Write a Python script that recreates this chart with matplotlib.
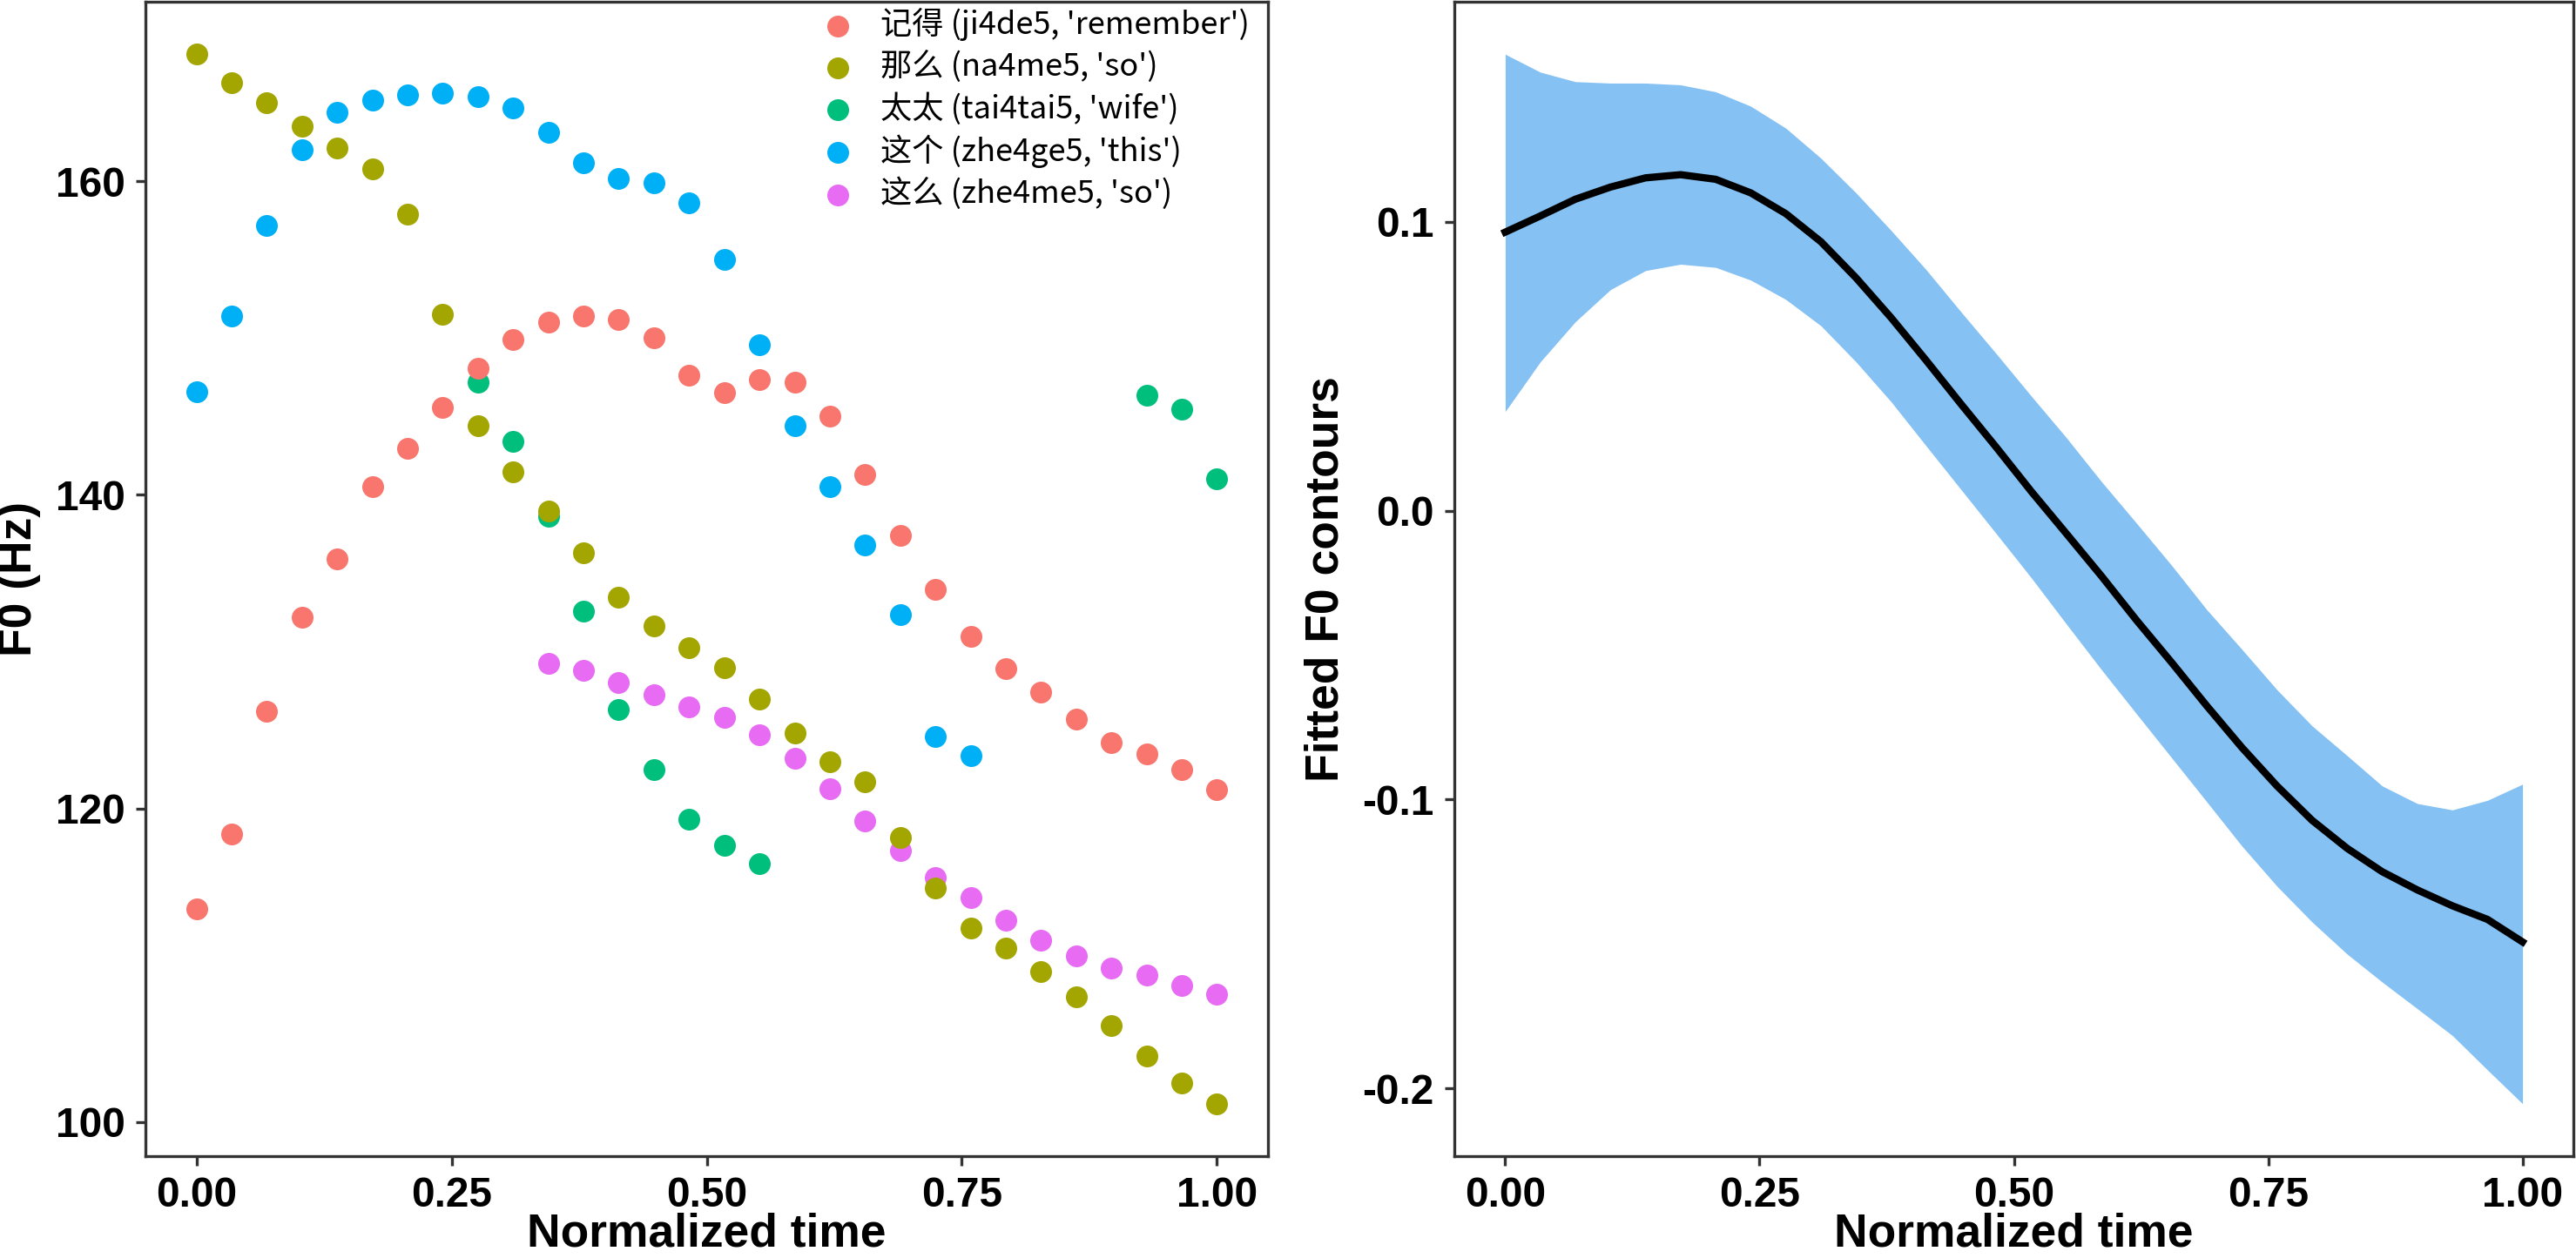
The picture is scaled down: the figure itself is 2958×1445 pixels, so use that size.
import numpy as np
import matplotlib
matplotlib.use('Agg')
import matplotlib.pyplot as plt

plt.rcParams['axes.unicode_minus'] = False

# normalized time grid (30 samples per token)
time = np.linspace(0, 1, 30)
nan = np.nan

words = ["记得 (ji4de5, 'remember')", "那么 (na4me5, 'so')", "太太 (tai4tai5, 'wife')",
         "这个 (zhe4ge5, 'this')", "这么 (zhe4me5, 'so')"]
colors = ['#F8766D', '#A3A500', '#00BF7D', '#00B0F6', '#E76BF3']

f0_jide = [113.6, 118.4, 126.2, 132.2, 135.9, 140.5, 142.95, 145.6, 148.1, 149.9,
           151.0, 151.4, 151.2, 150.0, 147.65, 146.5, 147.35, 147.2, 145.0, 141.3,
           137.4, 133.95, 131.0, 128.9, 127.45, 125.7, 124.2, 123.5, 122.5, 121.2]
f0_name = [168.1, 166.3, 165.0, 163.5, 162.1, 160.8, 157.9, 151.5, 144.4, 141.45,
           138.96, 136.3, 133.5, 131.66, 130.24, 128.97, 126.97, 124.84, 122.97, 121.68,
           118.13, 114.92, 112.37, 111.08, 109.6, 108.0, 106.18, 104.2, 102.5, 101.18]
f0_taitai = [nan, nan, nan, nan, nan, nan, nan, nan, 147.2, 143.4,
             138.65, 132.6, 126.3, 122.5, 119.3, 117.66, 116.5, nan, nan, nan,
             nan, nan, nan, nan, nan, nan, nan, 146.33, 145.44, 141.0]
f0_zhege = [146.6, 151.4, 157.2, 162.0, 164.4, 165.2, 165.5, 165.6, 165.4, 164.65,
            163.1, 161.2, 160.2, 159.9, 158.6, 155.0, 149.6, 144.4, 140.5, 136.8,
            132.35, 124.6, 123.37, nan, nan, nan, nan, nan, nan, nan]
f0_zheme = [nan, nan, nan, nan, nan, nan, nan, nan, nan, nan,
            129.26, 128.8, 128.05, 127.24, 126.5, 125.8, 124.7, 123.2, 121.24, 119.2,
            117.34, 115.58, 114.3, 112.9, 111.6, 110.6, 109.8, 109.37, 108.7, 108.16]
series = [f0_jide, f0_name, f0_taitai, f0_zhege, f0_zheme]
draw_order = [4, 5, 2, 3, 1]

fit = [0.0964, 0.102, 0.1078, 0.112, 0.1152, 0.1163, 0.1147, 0.110, 0.1028, 0.0931,
       0.0806, 0.0668, 0.052, 0.0368, 0.0219, 0.0066, -0.008, -0.0227, -0.038, -0.0526,
       -0.0676, -0.082, -0.0953, -0.1072, -0.1169, -0.125, -0.1313, -0.1368, -0.1415, -0.1493]
fit_upper = [0.158, 0.1518, 0.1485, 0.148, 0.148, 0.1474, 0.145, 0.140, 0.1324, 0.122,
             0.110, 0.097, 0.0834, 0.0687, 0.0543, 0.0396, 0.0252, 0.010, -0.0044, -0.019,
             -0.0343, -0.048, -0.062, -0.0745, -0.0848, -0.0953, -0.1014, -0.1036, -0.1003, -0.0947]
fit_lower = [0.0343, 0.0515, 0.0654, 0.0765, 0.0831, 0.0853, 0.0842, 0.0798, 0.0731, 0.064,
             0.0515, 0.0377, 0.0224, 0.0072, -0.008, -0.0233, -0.0393, -0.0551, -0.0704, -0.0856,
             -0.1008, -0.1161, -0.13, -0.1424, -0.1535, -0.1632, -0.1724, -0.1817, -0.1936, -0.2053]

W, H = 2958, 1445
fig = plt.figure(figsize=(W / 300, H / 300), dpi=300)
bottom = 1 - 1328 / H
height = (1328 - 2) / H
ax1 = fig.add_axes([167 / W, bottom, (1456 - 167) / W, height])
ax2 = fig.add_axes([1670 / W, bottom, (2955 - 1670) / W, height])

title_font = {'family': 'Liberation Sans', 'weight': 'bold', 'size': 12.8}


def style(ax):
    for s in ax.spines.values():
        s.set_color('#333333')
        s.set_linewidth(0.8)
    ax.tick_params(length=2.6, width=0.8, color='#333333', pad=3)
    for lab in ax.get_xticklabels() + ax.get_yticklabels():
        lab.set_fontfamily('Liberation Sans')
        lab.set_fontweight('bold')
        lab.set_fontsize(11.5)
        lab.set_color('black')


def pad_lim(lo, hi):
    d = (hi - lo) * 0.05
    return lo - d, hi + d


# left panel: raw F0 points
for vals, col, lab, z in zip(series, colors, words, draw_order):
    ax1.scatter(time, vals, s=36, color=col, linewidths=0, label=lab, zorder=z)

all_f0 = np.concatenate([np.array(v, dtype=float) for v in series])
ax1.set_xlim(*pad_lim(0, 1))
ax1.set_ylim(*pad_lim(np.nanmin(all_f0), np.nanmax(all_f0)))
ax1.set_xticks([0, 0.25, 0.5, 0.75, 1.0])
ax1.set_xticklabels(['0.00', '0.25', '0.50', '0.75', '1.00'])
ax1.set_yticks([100, 120, 140, 160])
ax1.set_xlabel('Normalized time', fontdict=title_font, labelpad=-0.8)
ax1.set_ylabel('F0 (Hz)', fontdict=title_font, labelpad=4)
style(ax1)

leg = ax1.legend(loc='upper left', bbox_to_anchor=(0.597, 1.0), frameon=False,
                 prop={'family': 'Noto Sans CJK SC', 'size': 8.7}, scatterpoints=1,
                 handlelength=1.0, handletextpad=0.85, labelspacing=0.3,
                 borderpad=0.2, borderaxespad=0)

# right panel: fitted contour with confidence band
ax2.fill_between(time, fit_lower, fit_upper, color='#85C1F2', linewidth=0)
ax2.plot(time, fit, color='black', linewidth=2.0)
ax2.set_xlim(*pad_lim(0, 1))
ax2.set_ylim(*pad_lim(min(fit_lower), max(fit_upper)))
ax2.set_xticks([0, 0.25, 0.5, 0.75, 1.0])
ax2.set_xticklabels(['0.00', '0.25', '0.50', '0.75', '1.00'])
ax2.set_yticks([-0.2, -0.1, 0.0, 0.1])
ax2.set_yticklabels(['-0.2', '-0.1', '0.0', '0.1'])
ax2.set_xlabel('Normalized time', fontdict=title_font, labelpad=-0.8)
ax2.set_ylabel('Fitted F0 contours', fontdict=title_font, labelpad=4)
style(ax2)

plt.savefig('out.png', dpi=300)
